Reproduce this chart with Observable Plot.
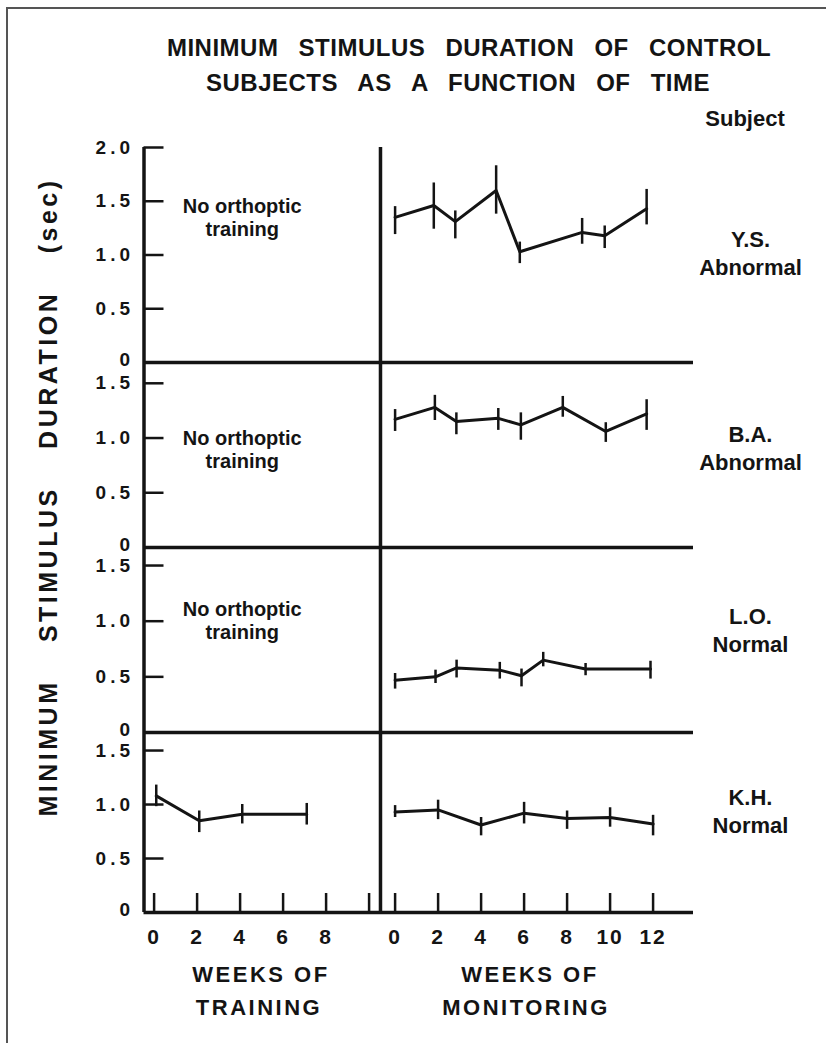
<!DOCTYPE html>
<html>
<head>
<meta charset="utf-8">
<script src="https://cdn.jsdelivr.net/npm/d3@7"></script>
<script src="https://cdn.jsdelivr.net/npm/@observablehq/plot@0.6"></script>
<style>
  body { margin: 0; background: #fff; }
  #page { position: relative; width: 826px; height: 1043px; overflow: hidden; background: #fff;
          font-family: "Liberation Sans", Arial, sans-serif; color: #141414; }
  #frame { position: absolute; left: 6px; top: 7px; width: 840px; height: 1060px;
           border-left: 2px solid #555; border-top: 2px solid #555; }
  .t { position: absolute; white-space: nowrap; font-weight: bold; transform: translate(-50%, -50%); line-height: 1; }
  .title { font-size: 24px; letter-spacing: 0.5px; word-spacing: 13px; }
  .ytitle { font-size: 25px; letter-spacing: 3.5px; word-spacing: 27px; transform: translate(-50%, -50%) rotate(-90deg); }
  .xtitle { font-size: 22px; letter-spacing: 2.5px; }
  .panel { position: absolute; left: 0; }
  g[aria-label="y-axis tick label"] text { letter-spacing: 4px; }
  g[aria-label="x-axis tick label"] text { letter-spacing: 2px; }
</style>
</head>
<body>
<div id="page">
  <div id="frame"></div>
  <div class="t title" style="left:469px;top:48px;">MINIMUM STIMULUS DURATION OF CONTROL</div>
  <div class="t title" style="left:458px;top:83px;">SUBJECTS AS A FUNCTION OF TIME</div>
  <div class="t" style="left:745px;top:119px;font-size:22px;">Subject</div>
  <div class="t ytitle" style="left:48px;top:497px;">MINIMUM STIMULUS DURATION (sec)</div>
  <div class="t xtitle" style="left:261px;top:975px;">WEEKS OF</div>
  <div class="t xtitle" style="left:259px;top:1008px;">TRAINING</div>
  <div class="t xtitle" style="left:530px;top:975px;">WEEKS OF</div>
  <div class="t xtitle" style="left:526px;top:1008px;">MONITORING</div>
</div>
<script>
// ---------- data ----------
const subjects = ["Y.S.", "B.A.", "L.O.", "K.H."];
const groups = ["Abnormal", "Abnormal", "Normal", "Normal"];
const noteText = "No orthoptic\ntraining";

// Y.S. (monitoring only)
const ysWeeks = [0, 1.8, 2.8, 4.7, 5.8, 8.7, 9.75, 11.7];
const ysMean  = [1.35, 1.46, 1.31, 1.60, 1.03, 1.21, 1.18, 1.43];
const ysLow   = [1.19, 1.24, 1.15, 1.38, 0.92, 1.10, 1.06, 1.28];
const ysHigh  = [1.45, 1.67, 1.41, 1.83, 1.12, 1.34, 1.27, 1.61];

// B.A. (monitoring only)
const baWeeks = [0, 1.85, 2.85, 4.8, 5.85, 7.8, 9.8, 11.7];
const baMean  = [1.17, 1.28, 1.15, 1.18, 1.12, 1.28, 1.06, 1.22];
const baLow   = [1.06, 1.16, 1.03, 1.07, 0.98, 1.19, 0.96, 1.07];
const baHigh  = [1.26, 1.39, 1.23, 1.27, 1.23, 1.38, 1.14, 1.35];

// L.O. (monitoring only)
const loWeeks = [0, 1.88, 2.86, 4.87, 5.88, 6.89, 8.86, 11.88];
const loMean  = [0.47, 0.50, 0.58, 0.56, 0.51, 0.65, 0.57, 0.57];
const loLow   = [0.39, 0.44, 0.49, 0.48, 0.41, 0.59, 0.51, 0.48];
const loHigh  = [0.53, 0.56, 0.65, 0.63, 0.57, 0.72, 0.62, 0.64];

// K.H. training
const khTrainWeeks = [0.1, 2.1, 4.1, 7.1];
const khTrainMean  = [1.08, 0.85, 0.91, 0.91];
const khTrainLow   = [0.98, 0.74, 0.82, 0.81];
const khTrainHigh  = [1.18, 0.94, 1.00, 1.01];

// K.H. monitoring
const khWeeks = [0, 2, 4, 6, 8, 10, 12];
const khMean  = [0.93, 0.95, 0.81, 0.92, 0.87, 0.88, 0.82];
const khLow   = [0.88, 0.86, 0.71, 0.82, 0.77, 0.79, 0.71];
const khHigh  = [0.99, 1.04, 0.88, 1.02, 0.94, 0.97, 0.90];

// axis ticks
const trainingTicks = [0, 2, 4, 6, 8, 10];
const trainingTickLabels = ["0", "2", "4", "6", "8", ""];
const monitoringTicks = [0, 2, 4, 6, 8, 10, 12];
const yTicksTop = [0.5, 1.0, 1.5, 2.0];
const yTicks = [0.5, 1.0, 1.5];
const yZero = [0];

// ---------- layout (combined week axis: training | monitoring) ----------
const MON_OFFSET = 11.21;     // where monitoring week 0 sits on the shared axis
const DIVIDER = 10.53;        // vertical separator between the two phases
const X_DOMAIN = [-0.47, 25.09];
const LABEL_X = 27.74;
const NOTE_X = 4.1;

function rowsOf(phase, weeks, mean, lo, hi) {
  return weeks.map((w, i) => ({
    phase, week: w, pos: phase === "training" ? w : w + MON_OFFSET,
    mean: mean[i], lo: lo[i], hi: hi[i]
  }));
}

const panels = [
  { top: 130, mt: 17, mb: 10, height: 242, domain: [0, 2.0], ticks: yTicksTop,
    rows: rowsOf("monitoring", ysWeeks, ysMean, ysLow, ysHigh), noteY: 1.353, labelY: 1.03 },
  { top: 352, mt: 10, mb: 10, height: 205, domain: [0, 1.69], ticks: yTicks,
    rows: rowsOf("monitoring", baWeeks, baMean, baLow, baHigh), noteY: 0.90, labelY: 0.92 },
  { top: 537, mt: 10, mb: 10, height: 205, domain: [0, 1.662], ticks: yTicks,
    rows: rowsOf("monitoring", loWeeks, loMean, loLow, loHigh), noteY: 1.006, labelY: 0.93 },
  { top: 722, mt: 10, mb: 40, height: 230, domain: [0, 1.667], ticks: yTicks,
    rows: [...rowsOf("training", khTrainWeeks, khTrainMean, khTrainLow, khTrainHigh),
           ...rowsOf("monitoring", khWeeks, khMean, khLow, khHigh)], noteY: null, labelY: 0.95, xAxis: true }
];

const INK = "#141414";
const xTickPos = [...trainingTicks, ...monitoringTicks.map(w => w + MON_OFFSET)];
const xTickLabel = [...trainingTickLabels, ...monitoringTicks.map(String)];
const yLabelStyle = { anchor: "left", tickSize: 0, tickPadding: 10, label: null,
  fontSize: 19, fontWeight: "bold", fill: INK };

const page = document.getElementById("page");
panels.forEach((p, i) => {
  const marks = [
    Plot.axisY(p.ticks, { ...yLabelStyle, tickFormat: d => d.toFixed(1) }),
    Plot.axisY(yZero, { ...yLabelStyle, tickFormat: () => "0", dy: -3 }),
    Plot.axisY(p.ticks, { anchor: "left", tickSize: 20, dx: 20, label: null,
      tickFormat: () => "", stroke: INK, strokeWidth: 2.5 }),
    Plot.ruleX([X_DOMAIN[0]], { stroke: INK, strokeWidth: 3.5 }),
    Plot.ruleX([DIVIDER], { stroke: INK, strokeWidth: 3.5 }),
    Plot.ruleY([0], { stroke: INK, strokeWidth: 3.5 }),
    Plot.ruleX(p.rows, { x: "pos", y1: "lo", y2: "hi", stroke: INK, strokeWidth: 2.5 }),
    Plot.line(p.rows, { x: "pos", y: "mean", z: "phase", stroke: INK, strokeWidth: 3 }),
    Plot.text([subjects[i] + "\n" + groups[i]], { x: LABEL_X, y: p.labelY, text: d => d,
      fontSize: 22, fontWeight: "bold", lineHeight: 1.28, fill: INK })
  ];
  if (p.noteY != null) {
    marks.push(Plot.text([noteText], { x: NOTE_X, y: p.noteY, text: d => d,
      fontSize: 20, fontWeight: "bold", lineHeight: 1.15, fill: INK }));
  }
  if (p.xAxis) {
    marks.push(
      Plot.axisX(xTickPos, { anchor: "bottom", tickSize: 19, dy: -19, label: null,
        tickFormat: () => "", stroke: INK, strokeWidth: 2.5 }),
      Plot.axisX(xTickPos, { anchor: "bottom", tickSize: 0, tickPadding: 17, label: null,
        tickFormat: d => xTickLabel[xTickPos.indexOf(d)], fontSize: 21, fontWeight: "bold", fill: INK })
    );
  }
  const chart = Plot.plot({
    width: 826, height: p.height,
    marginLeft: 143.5, marginRight: 133, marginTop: p.mt, marginBottom: p.mb,
    x: { domain: X_DOMAIN, label: null, ...(p.xAxis ? {} : { axis: null }) },
    y: { domain: p.domain, label: null },
    style: { background: "transparent", overflow: "visible", color: INK,
             fontFamily: '"Liberation Sans", Arial, sans-serif' },
    marks
  });
  const wrap = document.createElement("div");
  wrap.className = "panel";
  wrap.style.top = p.top + "px";
  wrap.appendChild(chart);
  page.appendChild(wrap);
});
</script>
</body>
</html>
